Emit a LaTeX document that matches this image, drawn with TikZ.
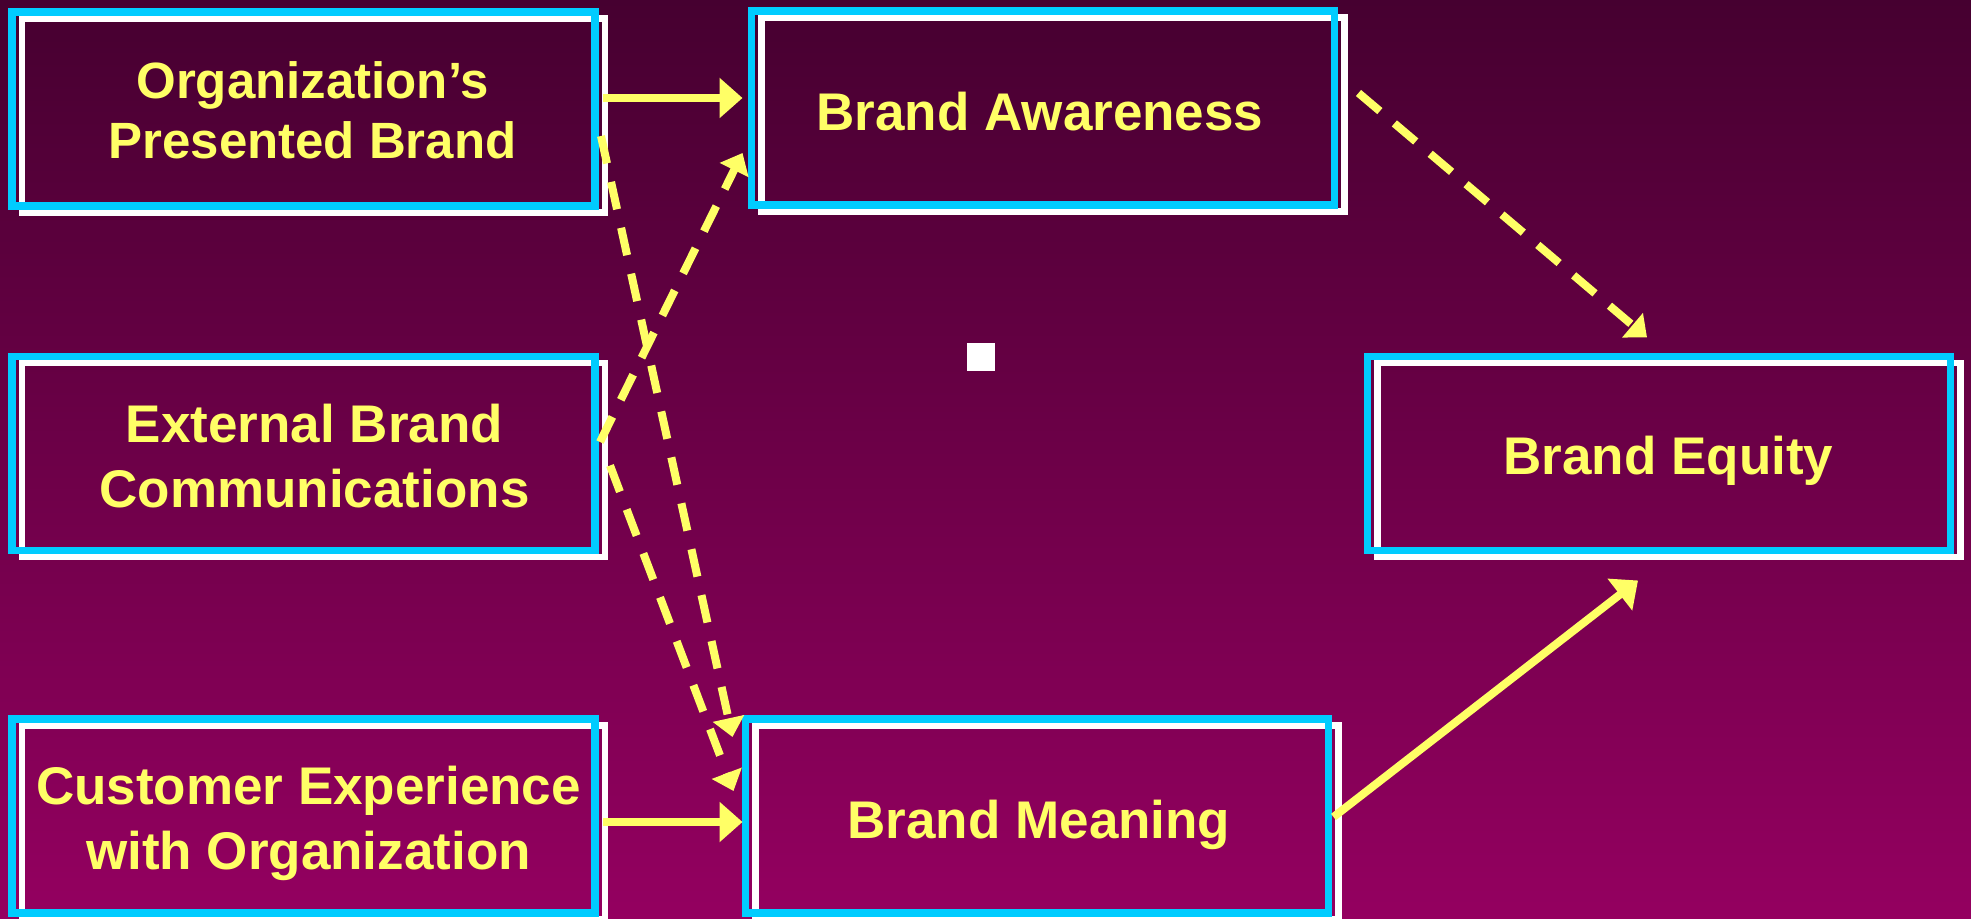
\documentclass[tikz,border=0pt]{standalone}
\usepackage{fontspec}
\setmainfont{Liberation Sans}
\usetikzlibrary{arrows.meta,calc}
\definecolor{bgtop}{RGB}{70,0,48}
\definecolor{bgbot}{RGB}{148,0,96}
\definecolor{frame}{RGB}{0,204,255}
\definecolor{ink}{RGB}{255,255,102}
\begin{document}
\begin{tikzpicture}[x=0.5pt,y=-0.5pt,
  box/.style={draw=frame, line width=3.75pt, outer sep=0pt, inner sep=0pt,
    minimum width=291.5pt, minimum height=97pt,
    preaction={draw=white, line width=3.25pt,
      transform canvas={shift={(5pt,-3.25pt)}}}},
  txt/.style={text=ink, align=center, inner sep=0pt,
    font=\fontsize{26.5}{32.5}\selectfont\bfseries},
  link/.style={draw=ink, line width=4pt, -{Triangle[length=11.5pt,width=19.5pt]}},
  dashlink/.style={draw=ink, line width=4pt, dash pattern=on 14pt off 9.5pt,
    -{Triangle[length=9.5pt,width=15.5pt]}}
]
% page and background
\useasboundingbox (0,0) rectangle (1971,919);
\shade[top color=bgtop, bottom color=bgbot] (0,0) rectangle (1971,919);

% boxes
\node[box] (org)     at (303.5,109)   {};
\node[box] (aware)   at (1043,108)    {};
\node[box] (ext)     at (303.5,453.5) {};
\node[box] (equity)  at (1659,453.5)  {};
\node[box] (cust)    at (303.5,816)   {};
\node[box] (meaning) at (1037,816)    {};

% box captions
\node[txt, font=\fontsize{25.5}{30}\selectfont\bfseries] (orgt) at ($(org)+(9,1)$) {Organization’s\\Presented Brand};
\node[txt] (awaret)   at ($(aware)+(-3,4)$)    {Brand Awareness};
\node[txt] (extt)     at ($(ext)+(11,2.5)$)    {External Brand\\Communications};
\node[txt] (equityt)  at ($(equity)+(9.5,7.5)$) {Brand Equity};
\node[txt] (custt)    at ($(cust)+(5,7)$)      {Customer Experience\\with Organization};
\node[txt] (meaningt) at ($(meaning)+(2,9)$)   {Brand Meaning};

% small white square
\node[fill=white, minimum size=14pt, inner sep=0pt, outer sep=0pt] (dot) at (981,357) {};

% solid links
\draw[link] ($(org.east)+(8,-11)$) -- ($(aware.west)+(-9,-10)$);
\draw[link] ($(cust.east)+(8,6)$) -- ($(meaning.west)+(-3,6)$);
\draw[link] ($(meaning.east)+(5,1)$) -- ($(equity.south)+(-21,30)$);

% dashed links
\draw[dashlink] ($(aware.east)+(24,-15)$) -- ($(equity.north)+(-12,-19)$);
\draw[dashlink] ($(ext.east)+(5,-11.5)$) -- ($(aware.west)+(-9,45)$);
\draw[dashlink] ($(org.east)+(6,27)$) -- ($(meaning.north west)+(-13,18)$);
\draw[dashlink] ($(ext.east)+(15,12)$) -- ($(meaning.west)+(-12,-25)$);
\end{tikzpicture}
\end{document}
